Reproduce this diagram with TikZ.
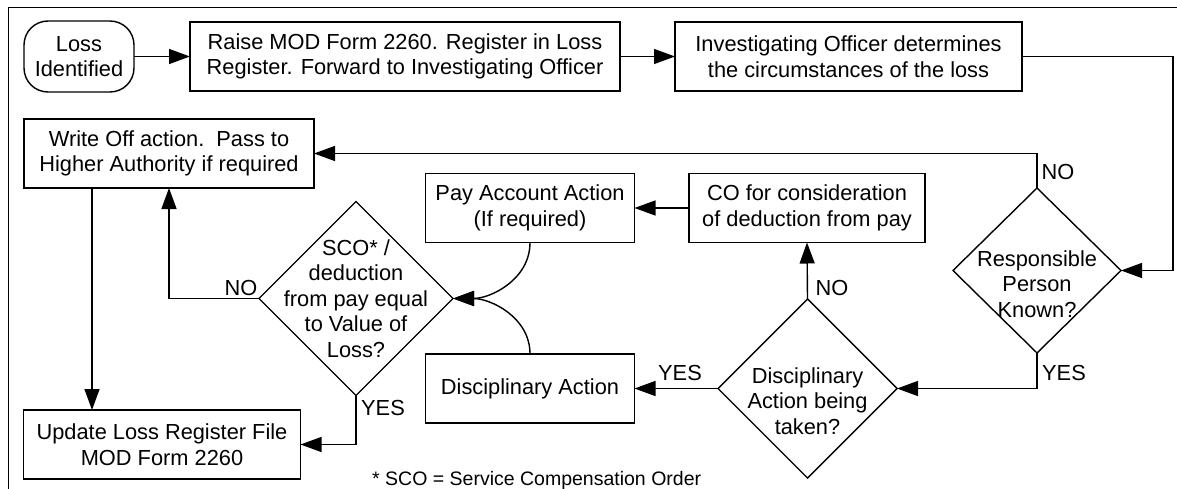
\documentclass[tikz,border=0pt]{standalone}
\usepackage{fontspec}
\setmainfont{Liberation Sans}
\usetikzlibrary{arrows.meta,shapes.geometric}
\begin{document}
\begin{tikzpicture}[x=1pt,y=-1pt,
  every node/.style={font=\fontsize{21.8}{25.5}\selectfont, text=black},
  box/.style={draw, line width=1.4pt, rectangle, inner sep=0pt, outer sep=0pt, align=center},
  term/.style={box, rounded corners=24pt},
  dec/.style={draw, line width=1.4pt, diamond, inner sep=0pt, outer sep=0pt, aspect=1},
  lbl/.style={inner sep=0pt},
  flow/.style={line width=1.4pt, -{Triangle[length=21pt,width=15pt]}},
  frame/.style={line width=1.5pt}]
\useasboundingbox (0,0) rectangle (1177,489);
\draw[frame] (1177,7.5) -- (8.5,7.5) -- (8.5,489);

% boxes
\node[term, minimum width=110pt, minimum height=71pt] (loss) at (79,56.5) {Loss\\Identified};
\node[box, minimum width=430pt, minimum height=69pt] (raise) at (405,56.5) {Raise MOD Form 2260. Register in Loss\\Register. Forward to Investigating Officer};
\node[box, minimum width=347pt, minimum height=69pt] (inv) at (848.5,56.5) {Investigating Officer determines\\the circumstances of the loss};
\node[box, minimum width=290pt, minimum height=69pt] (wo) at (169,153.5) {Write Off action.\ \ Pass to\\Higher Authority if required};
\node[box, minimum width=209pt, minimum height=69pt] (pay) at (530,208) {Pay Account Action\\(If required)};
\node[box, minimum width=236pt, minimum height=69pt] (co) at (807,208) {CO for consideration\\of deduction from pay};
\node[box, minimum width=209pt, minimum height=69pt] (da) at (530,388.5) {Disciplinary Action};
\node[box, minimum width=277pt, minimum height=69pt] (upd) at (162,444.5) {Update Loss Register File\\MOD Form 2260};

% decisions
\node[dec, minimum width=194pt, minimum height=194pt] (sco) at (356,298.5) {};
\node[dec, minimum width=168pt, minimum height=165pt] (rpk) at (1037,270.5) {};
\node[dec, minimum width=179pt, minimum height=179pt] (dat) at (807.5,388.5) {};
\node[lbl, align=center] (scot) at (356,298.5) {SCO* /\\deduction\\from pay equal\\to Value of\\Loss?};
\node[lbl, align=center] (rpkt) at (1037,284) {Responsible\\Person\\Known?};
\node[lbl, align=center] (datt) at (807.5,401) {Disciplinary\\Action being\\taken?};

% connectors
\coordinate (rt) at (1173,270.5);
\draw[flow] (loss.east) -- (raise.west);
\draw[flow] (raise.east) -- (inv.west);
\draw[flow] (inv.east) -| (rt) -- (rpk.east);
\draw[flow] (rpk.north) |- (wo.east);
\draw[flow] (rpk.south) |- (dat.east);
\draw[flow] (dat.north) -- (co.south);
\draw[flow] (co.west) -- (pay.east);
\draw[flow] (dat.west) -- (da.east);
\draw[flow] (pay.south) to[out=-90,in=0] (sco.east);
\draw[flow] (da.north) to[out=90,in=0] (sco.east);
\draw[flow] (sco.west) -| (wo.south);
\draw[flow] (sco.south) |- (upd.east);
\draw[flow] ([xshift=-77pt]wo.south) -- ([xshift=-70pt]upd.north);

% labels
\node[lbl] (no1) at (1058,172) {NO};
\node[lbl] (no2) at (832,288) {NO};
\node[lbl] (no3) at (241,288) {NO};
\node[lbl] (yes1) at (383,408) {YES};
\node[lbl] (yes2) at (1064,373) {YES};
\node[lbl] (yes3) at (680,373) {YES};
\node[lbl, anchor=base west, font=\fontsize{19.5}{22}\selectfont] (fn) at (372,485) {* SCO = Service Compensation Order};
\end{tikzpicture}
\end{document}
